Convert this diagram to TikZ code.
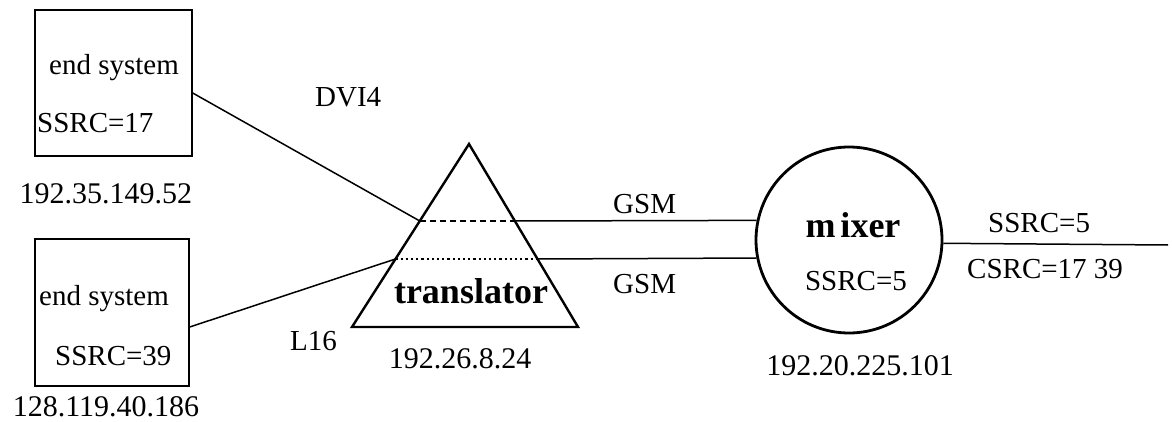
\documentclass[tikz,border=0pt]{standalone}
\usepackage{fontspec}
\setmainfont{Liberation Serif}
\usetikzlibrary{calc}
\begin{document}
\begin{tikzpicture}[x=1pt,y=-1pt,
  lbl/.style={font=\fontsize{29}{34}\selectfont, inner sep=0pt},
  ip/.style={font=\fontsize{30}{34}\selectfont, inner sep=0pt},
  big/.style={font=\fontsize{36}{40}\selectfont\bfseries, inner sep=0pt},
  endsys/.style={draw, line width=1.4pt, inner sep=0pt},
  conn/.style={line width=1.5pt},
  tri/.style={line width=2.4pt, line join=miter},
  mixnode/.style={circle, draw, line width=2.8pt, inner sep=0pt, minimum size=186pt}]
\useasboundingbox (0,0) rectangle (1172,422);
\fill[white] (0,0) rectangle (1172,422);

% end systems
\node[endsys, minimum width=157pt, minimum height=146pt] (es1) at (113.5,83) {};
\node[endsys, minimum width=154pt, minimum height=147pt] (es2) at (112,312.5) {};
\node[lbl, anchor=base west] (es1a) at (49,75) {end system};
\node[lbl, anchor=base west] (es1b) at (37,133) {SSRC=17};
\node[ip, anchor=base] (ip1) at (106,204) {192.35.149.52};
\node[lbl, anchor=base west] (es2a) at (39,305) {end system};
\node[lbl, anchor=base west] (es2b) at (55,365) {SSRC=39};
\node[ip, anchor=base] (ip2) at (106,416) {128.119.40.186};

% translator
\coordinate (apex) at (469,144);
\coordinate (bl) at (352,327);
\coordinate (br) at (578,327);
\draw[tri] (apex) -- (bl) -- (br) -- cycle;
\coordinate (tl1) at ($(apex)!77/183!(bl)$);
\coordinate (tr1) at ($(apex)!77/183!(br)$);
\coordinate (tl2) at ($(apex)!115/183!(bl)$);
\coordinate (tr2) at ($(apex)!115/183!(br)$);
\draw[line width=1.5pt, dash pattern=on 6pt off 4pt] (tl1) -- (tr1);
\draw[line width=2pt, dash pattern=on 2.2pt off 3pt] (tl2) -- (tr2);
\node[big, anchor=base] (trl) at (471,303) {translator};
\node[ip, anchor=base] (ip3) at (460,368) {192.26.8.24};

% mixer
\node[mixnode] (mix) at (849,240) {};
\node[big, anchor=base] (mixl) at (853,237) {m\kern5pt ixer};
\node[lbl, anchor=base] (mixs) at (856,290) {SSRC=5};
\node[ip, anchor=base] (ip4) at (860,375) {192.20.225.101};

% connectors
\draw[conn] ([yshift=-10pt]es1.east) -- (tl1);
\draw[conn] ([yshift=-14.5pt]es2.east) -- (tl2);
\draw[conn] (tr1) -- (mix.168.2);
\draw[conn] (tr2) -- (mix.191.8);
\coordinate (out) at (1168,245);
\draw[conn] (mix.-2.5) -- (out);

% labels
\node[lbl, anchor=base west] (dvi) at (315,107) {DVI4};
\node[lbl, anchor=base west] (l16) at (290,350) {L16};
\node[lbl, anchor=base west] (gsm1) at (613,213) {GSM};
\node[lbl, anchor=base west] (gsm2) at (613,293) {GSM};
\node[lbl, anchor=base west] (ssrc5) at (988,232) {SSRC=5};
\node[lbl, anchor=base west] (csrc) at (967,278) {CSRC=17 39};
\end{tikzpicture}
\end{document}
